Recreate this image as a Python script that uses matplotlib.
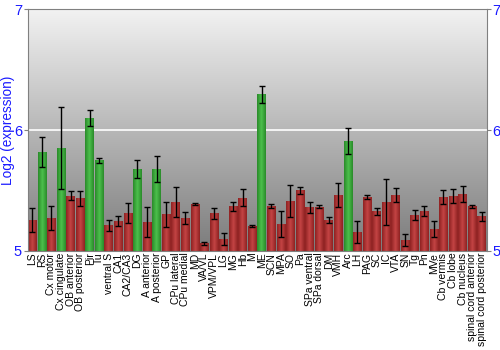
import numpy as np
import matplotlib
matplotlib.use("Agg")
import matplotlib.pyplot as plt
from matplotlib.colors import LinearSegmentedColormap

regions = ["LS", "RS", "Cx motor", "Cx cingulate", "OB anterior", "OB posterior",
           "Pir", "Tu", "ventral S", "CA1", "CA2/CA3", "DG", "A anterior",
           "A posterior", "GP", "CPu lateral", "CPu medial", "MD", "VA/VL",
           "VPM/VPL", "LG", "MG", "Hb", "M", "ME", "SCN", "MPA", "SO", "Pa",
           "SPa ventral", "SPa dorsal", "DM", "VMH", "Arc", "LH", "PAG", "SC",
           "IC", "VTA", "SN", "Tg", "Pn", "MVe", "Cb vermis", "Cb lobe",
           "Cb nucleus", "spinal cord anterior", "spinal cord posterior"]
values = [5.254, 5.82, 5.27, 5.85, 5.456, 5.434, 6.10, 5.75, 5.21, 5.246,
          5.31, 5.68, 5.24, 5.677, 5.30, 5.40, 5.27, 5.384, 5.06, 5.31,
          5.097, 5.367, 5.44, 5.204, 6.296, 5.37, 5.22, 5.41, 5.50, 5.36,
          5.365, 5.254, 5.464, 5.909, 5.155, 5.445, 5.326, 5.40, 5.46, 5.088,
          5.293, 5.33, 5.177, 5.445, 5.453, 5.47, 5.367, 5.285]
errors = [0.10, 0.125, 0.10, 0.34, 0.04, 0.06, 0.07, 0.02, 0.045, 0.045,
          0.085, 0.075, 0.125, 0.105, 0.105, 0.125, 0.047, 0.008, 0.012, 0.047,
          0.052, 0.037, 0.072, 0.005, 0.07, 0.017, 0.11, 0.135, 0.03, 0.047,
          0.011, 0.028, 0.10, 0.105, 0.088, 0.02, 0.03, 0.19, 0.06, 0.05,
          0.042, 0.043, 0.066, 0.06, 0.058, 0.064, 0.012, 0.036]
highlighted = ["RS", "Cx cingulate", "Pir", "Tu", "DG", "A posterior", "ME", "Arc"]

ymin, ymax = 5, 7
blue = "#1a1aff"

fig = plt.figure(figsize=(5, 3.5), dpi=100)
ax = fig.add_axes([0.055, 0.284, 0.918, 0.689])
x = np.arange(len(regions))
ax.set_xlim(-0.5, len(regions) - 0.5)
ax.set_ylim(ymin, ymax)

# grey vertical gradient in the background
bg = LinearSegmentedColormap.from_list("bg", ["#7c7c7c", "#f2f2f2"])
ax.imshow(np.linspace(0, 1, 256).reshape(-1, 1), cmap=bg, origin="lower",
          extent=(-0.5, len(regions) - 0.5, ymin, ymax), aspect="auto", zorder=0)
ax.axhline(6, color="white", lw=1.2, zorder=1)

red_cm = LinearSegmentedColormap.from_list("r", ["#8e2222", "#c44444", "#8e2222"])
green_cm = LinearSegmentedColormap.from_list("g", ["#2a8a2a", "#4cc04c", "#2a8a2a"])
grad = np.linspace(0, 1, 64).reshape(1, -1)

bars = ax.bar(x, np.array(values) - ymin, bottom=ymin, width=0.9,
              color="none", zorder=2)
for name, bar in zip(regions, bars):
    cm = green_cm if name in highlighted else red_cm
    im = ax.imshow(grad, cmap=cm, aspect="auto", zorder=2,
                   extent=(bar.get_x(), bar.get_x() + bar.get_width(),
                           ymin, bar.get_y() + bar.get_height()))
    im.set_clip_path(bar)

ax.errorbar(x, values, yerr=errors, fmt="none", ecolor="black", elinewidth=1,
            capsize=2.5, capthick=1, zorder=3)

ax.set_xticks(x)
ax.set_xticklabels(regions, rotation=90, fontsize=7.5, family="Liberation Sans")
ax.tick_params(axis="x", length=0, pad=1.5)
ax.set_yticks([5, 6, 7])
ax.set_yticklabels(["5", "6", "7"], family="Liberation Sans")
ax.tick_params(axis="y", colors="#808080", labelcolor=blue, labelsize=10.5,
               length=3, right=True, labelright=True, pad=1)
ax.set_ylabel("Log2 (expression)", color=blue, fontsize=9.8,
              family="Liberation Sans")
ax.yaxis.set_label_coords(-0.027, 0.5)
for sp in ax.spines.values():
    sp.set_color("#808080")

fig.savefig("out.png", dpi=100)
